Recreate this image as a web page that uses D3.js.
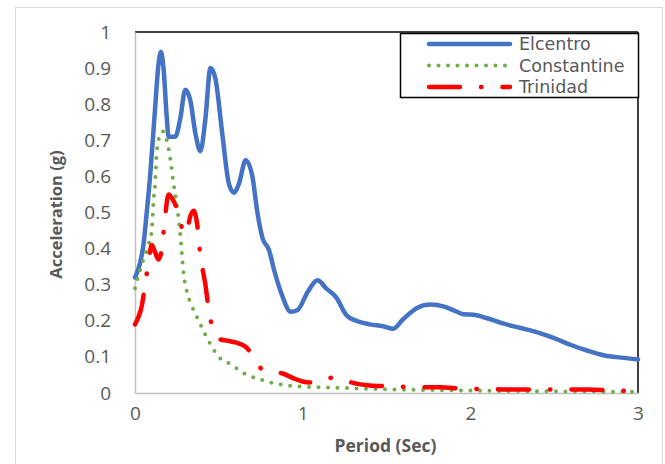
<!DOCTYPE html>
<html>
<head>
<meta charset="utf-8">
<script src="https://cdn.jsdelivr.net/npm/d3@7"></script>
<style>
  html, body { margin: 0; padding: 0; background: #fff; }
  svg text { font-family: "Open Sans", "DejaVu Sans", sans-serif; fill: #595959; }
</style>
</head>
<body>
<svg id="chart" width="665" height="464"></svg>
<script>
// ---- Data ----
const seriesNames = ["Elcentro", "Constantine", "Trinidad"];

const elcentroT = [0, 0.03, 0.05, 0.07, 0.09, 0.12, 0.14, 0.155, 0.17, 0.19, 0.2, 0.24, 0.27, 0.3, 0.33, 0.36, 0.39, 0.42, 0.45, 0.48, 0.52, 0.56, 0.59, 0.62, 0.66, 0.7, 0.73, 0.76, 0.8, 0.83, 0.87, 0.93, 0.97, 1.03, 1.09, 1.14, 1.2, 1.26, 1.32, 1.4, 1.48, 1.54, 1.6, 1.68, 1.76, 1.84, 1.92, 1.96, 2.02, 2.1, 2.2, 2.3, 2.4, 2.5, 2.6, 2.7, 2.8, 2.9, 3.0];
const elcentroA = [0.32, 0.36, 0.41, 0.5, 0.6, 0.79, 0.91, 0.945, 0.9, 0.76, 0.71, 0.71, 0.76, 0.84, 0.81, 0.72, 0.67, 0.76, 0.9, 0.87, 0.72, 0.58, 0.555, 0.58, 0.645, 0.6, 0.5, 0.43, 0.395, 0.34, 0.28, 0.225, 0.23, 0.28, 0.312, 0.29, 0.265, 0.216, 0.2, 0.19, 0.185, 0.178, 0.205, 0.235, 0.245, 0.24, 0.225, 0.218, 0.217, 0.207, 0.192, 0.18, 0.168, 0.152, 0.133, 0.117, 0.104, 0.098, 0.093];

const constantineT = [0, 0.03, 0.05, 0.08, 0.1, 0.11, 0.12, 0.13, 0.15, 0.165, 0.19, 0.21, 0.23, 0.25, 0.27, 0.29, 0.31, 0.34, 0.37, 0.4, 0.45, 0.5, 0.57, 0.65, 0.75, 0.85, 0.95, 1.1, 1.3, 1.5, 1.8, 2.1, 2.4, 2.7, 3.0];
const constantineA = [0.29, 0.34, 0.37, 0.41, 0.45, 0.53, 0.58, 0.67, 0.715, 0.725, 0.7, 0.65, 0.58, 0.52, 0.44, 0.33, 0.28, 0.24, 0.21, 0.18, 0.135, 0.1, 0.08, 0.055, 0.037, 0.025, 0.019, 0.016, 0.013, 0.01, 0.008, 0.006, 0.005, 0.004, 0.003];

const trinidadT = [0, 0.02, 0.04, 0.06, 0.08, 0.1, 0.12, 0.14, 0.16, 0.18, 0.2, 0.22, 0.25, 0.27, 0.29, 0.31, 0.33, 0.35, 0.37, 0.39, 0.42, 0.44, 0.47, 0.5, 0.55, 0.6, 0.66, 0.7, 0.76, 0.82, 0.88, 0.95, 1.0, 1.06, 1.12, 1.18, 1.25, 1.3, 1.4, 1.5, 1.6, 1.7, 1.82, 1.95, 2.05, 2.2, 2.4, 2.55, 2.7, 2.85, 3.0];
const trinidadA = [0.19, 0.21, 0.24, 0.3, 0.36, 0.41, 0.39, 0.37, 0.4, 0.49, 0.55, 0.54, 0.51, 0.48, 0.44, 0.45, 0.49, 0.505, 0.47, 0.38, 0.3, 0.23, 0.17, 0.15, 0.145, 0.14, 0.128, 0.105, 0.065, 0.058, 0.054, 0.04, 0.032, 0.029, 0.033, 0.043, 0.035, 0.028, 0.021, 0.019, 0.017, 0.016, 0.016, 0.012, 0.011, 0.01, 0.01, 0.01, 0.01, 0.007, 0.005];

const xTicks = [0, 1, 2, 3];
const yTicks = [0, 0.1, 0.2, 0.3, 0.4, 0.5, 0.6, 0.7, 0.8, 0.9, 1];
const xTitle = "Period (Sec)";
const yTitle = "Acceleration (g)";

// ---- Layout ----
const svg = d3.select("#chart");
const L = 135, R = 638, T = 32, B = 393;
const x = d3.scaleLinear().domain([0, 3]).range([L, R]);
const y = d3.scaleLinear().domain([0, 1]).range([B, T]);

// outer chart border
svg.append("rect").attr("x", 15.5).attr("y", 7.5).attr("width", 647).attr("height", 470)
  .attr("fill", "#fff").attr("stroke", "#d9d9d9").attr("stroke-width", 1);

// plot area border (top/right black)
svg.append("line").attr("x1", L).attr("x2", R).attr("y1", T).attr("y2", T).attr("stroke", "#000").attr("stroke-width", 1.5);
svg.append("line").attr("x1", R).attr("x2", R).attr("y1", T).attr("y2", B).attr("stroke", "#000").attr("stroke-width", 1.5);

// axes
const xAxis = d3.axisBottom(x).tickValues(xTicks).tickSize(0).tickPadding(14).tickFormat(d3.format("d"));
const yAxis = d3.axisLeft(y).tickValues(yTicks).tickSize(0).tickPadding(24).tickFormat(d => d === 0 || d === 1 ? String(d) : d3.format(".1f")(d));

const gx = svg.append("g").attr("transform", `translate(0,${B})`).call(xAxis);
const gy = svg.append("g").attr("transform", `translate(${L},0)`).call(yAxis);
[gx, gy].forEach(g => {
  g.select(".domain").attr("stroke", "#bfbfbf").attr("stroke-width", 1.5);
  g.selectAll("text").attr("font-size", 19).style("fill", "#595959").attr("font-family", '"Open Sans", sans-serif');
});

// axis titles
svg.append("text").attr("x", (L + R) / 2 - 1).attr("y", 452).attr("text-anchor", "middle")
  .attr("font-size", 17.5).attr("font-weight", "bold").text(xTitle);
svg.append("text").attr("transform", `translate(62,${(T + B) / 2 + 2}) rotate(-90)`).attr("text-anchor", "middle")
  .attr("font-size", 16.5).attr("font-weight", "bold").text(yTitle);

// series
const series = [
  { name: seriesNames[0], t: elcentroT, a: elcentroA, color: "#4472C4", width: 4.5, dash: null, cap: "round" },
  { name: seriesNames[1], t: constantineT, a: constantineA, color: "#70AD47", width: 4, dash: "0 9.5", cap: "round" },
  { name: seriesNames[2], t: trinidadT, a: trinidadA, color: "#FF0000", width: 4.5, dash: "31 21 0.5 21", cap: "round" }
];

const line = d3.line().x(d => x(d[0])).y(d => y(d[1])).curve(d3.curveMonotoneX);

series.forEach(s => {
  const pts = s.t.map((t, i) => [t, s.a[i]]);
  svg.append("path").datum(pts).attr("d", line)
    .attr("fill", "none").attr("stroke", s.color).attr("stroke-width", s.width)
    .attr("stroke-linecap", s.cap).attr("stroke-linejoin", "round")
    .attr("stroke-dasharray", s.dash);
});

// legend
const lg = svg.append("g");
lg.append("rect").attr("x", 400.5).attr("y", 33.5).attr("width", 238).attr("height", 64)
  .attr("fill", "#fff").attr("stroke", "#000").attr("stroke-width", 1.5);
const rowY = [44, 65.5, 87];
series.forEach((s, i) => {
  lg.append("line").attr("x1", 429).attr("x2", 510).attr("y1", rowY[i]).attr("y2", rowY[i])
    .attr("stroke", s.color).attr("stroke-width", s.width)
    .attr("stroke-linecap", s.cap).attr("stroke-dasharray", s.dash);
  lg.append("text").attr("x", 519).attr("y", rowY[i]).attr("dy", "0.35em")
    .attr("font-size", 17.5).style("font-family", '"DejaVu Sans", sans-serif').text(s.name);
});
</script>
</body>
</html>
